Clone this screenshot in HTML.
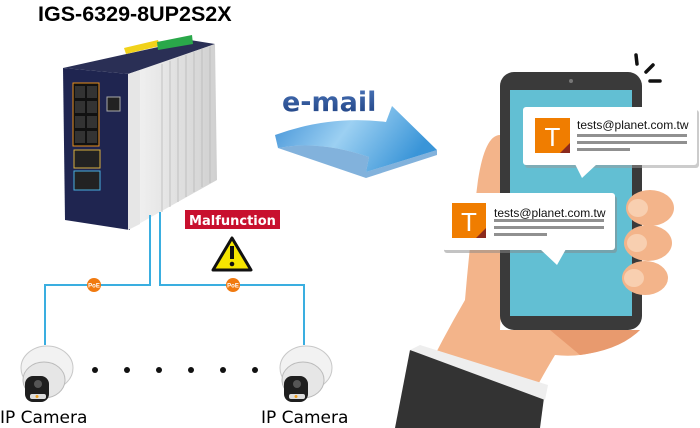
<!DOCTYPE html>
<html><head><meta charset="utf-8"><style>
html,body{margin:0;padding:0;background:#fff;}
svg{display:block;}
.ls{font-family:"Liberation Sans",sans-serif;}
.dv{font-family:"DejaVu Sans",sans-serif;}
</style></head><body>
<svg width="700" height="428" viewBox="0 0 700 428" xmlns="http://www.w3.org/2000/svg">
<defs>
<linearGradient id="arr" x1="0" y1="0" x2="1" y2="0.3"><stop offset="0" stop-color="#3d8fd6"/><stop offset="0.5" stop-color="#9cd0f2"/><stop offset="1" stop-color="#3a95d8"/></linearGradient>
<linearGradient id="alu" x1="0" y1="0" x2="1" y2="0"><stop offset="0" stop-color="#f4f4f4"/><stop offset="1" stop-color="#d0d0d0"/></linearGradient>
<linearGradient id="em" x1="0" y1="0" x2="0" y2="1"><stop offset="0" stop-color="#4a74b8"/><stop offset="1" stop-color="#1d3f80"/></linearGradient>
</defs>
<text class="ls" x="38" y="21" font-size="21.5" font-weight="bold" fill="#000">IGS-6329-8UP2S2X</text>
<!-- switch -->
<polygon points="63,68 190,40 215,44 130,74" fill="#2a2f55"/>
<polygon points="124,48 158,40 160,46 126,54" fill="#f1d21a"/>
<polygon points="157,42 192,35 193,44 158,50" fill="#2aa84a"/>
<polygon points="63,68 130,74 130,230 65,220" fill="#1f2550"/>
<polygon points="128,74 215,44 217,180 160,212 128,230" fill="url(#alu)"/>
<polygon points="128,74 140,70 140,224 128,230" fill="#e6e6e6"/>
<g stroke="#b8b8b8" stroke-width="0.8">
<line x1="162" y1="64" x2="162" y2="212"/><line x1="170" y1="61" x2="170" y2="207"/><line x1="178" y1="58" x2="178" y2="202"/><line x1="186" y1="55" x2="186" y2="197"/><line x1="194" y1="52" x2="194" y2="192"/><line x1="202" y1="49" x2="202" y2="187"/><line x1="210" y1="47" x2="210" y2="183"/></g>
<rect x="73" y="83" width="26" height="63" fill="#111" stroke="#e8901c" stroke-width="1"/>
<g fill="#333"><rect x="75" y="86" width="10" height="12"/><rect x="87" y="86" width="10" height="12"/><rect x="75" y="101" width="10" height="12"/><rect x="87" y="101" width="10" height="12"/><rect x="75" y="116" width="10" height="12"/><rect x="87" y="116" width="10" height="12"/><rect x="75" y="131" width="10" height="12"/><rect x="87" y="131" width="10" height="12"/></g>
<rect x="107" y="97" width="13" height="14" fill="#222" stroke="#aaa"/>
<rect x="74" y="150" width="26" height="18" fill="#222" stroke="#d8b040"/>
<rect x="74" y="171" width="26" height="19" fill="#222" stroke="#4ab0e0"/>
<!-- cables -->
<polyline points="150,215 150,285 45,285 45,345" fill="none" stroke="#3aaee0" stroke-width="2"/>
<polyline points="160,212 160,285 304,285 304,345" fill="none" stroke="#3aaee0" stroke-width="2"/>
<circle cx="94" cy="285" r="7" fill="#f07a10"/><text class="ls" x="94" y="287.5" font-size="6" font-weight="bold" fill="#fff" text-anchor="middle">PoE</text>
<circle cx="233" cy="285" r="7" fill="#f07a10"/><text class="ls" x="233" y="287.5" font-size="6" font-weight="bold" fill="#fff" text-anchor="middle">PoE</text>
<rect x="185" y="210" width="95" height="19" fill="#c8102e"/>
<text class="dv" x="232.5" y="225" font-size="13" font-weight="bold" fill="#fff" text-anchor="middle">Malfunction</text>
<polygon points="232,238 251,270 213,270" fill="#f6e500" stroke="#111" stroke-width="3" stroke-linejoin="round"/>
<rect x="230" y="246" width="4" height="13" fill="#111"/><circle cx="232" cy="264" r="2.3" fill="#111"/>
<!-- cameras -->
<g id="cam">
<ellipse cx="47" cy="368" rx="26" ry="22" fill="#f2f2f2" stroke="#c8c8c8"/>
<ellipse cx="44" cy="380" rx="21" ry="18" fill="#e6e6e6" stroke="#bbb"/>
<rect x="25" y="376" width="24" height="26" rx="8" fill="#1e1e1e"/>
<circle cx="38" cy="384" r="4" fill="#555"/>
<rect x="30" y="394" width="16" height="5" rx="2" fill="#ddd"/>
<circle cx="37" cy="396.5" r="1.5" fill="#f0a020"/>
</g>
<use href="#cam" x="259"/>
<g fill="#111"><circle cx="95" cy="370" r="3"/><circle cx="127" cy="370" r="3"/><circle cx="159" cy="370" r="3"/><circle cx="191" cy="370" r="3"/><circle cx="223" cy="370" r="3"/><circle cx="255" cy="370" r="3"/></g>
<text class="dv" x="0" y="423" font-size="17" fill="#000">IP Camera</text>
<text class="dv" x="261" y="423" font-size="17" fill="#000">IP Camera</text>
<!-- email arrow -->
<text class="dv" x="282" y="111" font-size="27" font-weight="bold" fill="url(#em)">e-mail</text>
<path d="M275,135 Q330,115 386,122 L392,106 L437,150 L366,172 L369,157 Q320,140 278,148 Z" fill="url(#arr)"/>
<path d="M278,148 Q320,140 369,157 L366,172 L437,150 L437,155 L366,178 Z" fill="#2f7fc4" opacity="0.6"/>
<!-- hand & phone -->
<path d="M465,300 Q470,240 478,180 Q485,135 500,135 Q515,140 505,200 L500,330 L640,330 Q600,360 555,355 Q540,380 530,400 L440,428 L400,428 Q430,360 465,300 Z" fill="#f3b48a"/>
<rect x="500" y="72" width="142" height="258" rx="14" fill="#3a3a3a"/>
<rect x="510" y="90" width="122" height="226" fill="#62bfd3"/>
<circle cx="571" cy="81" r="2" fill="#777"/>
<g fill="#f3b48a"><ellipse cx="650" cy="208" rx="24" ry="18"/><ellipse cx="648" cy="243" rx="24" ry="18"/><ellipse cx="645" cy="278" rx="23" ry="17"/></g>
<g fill="#f8cfb0"><ellipse cx="638" cy="208" rx="10" ry="9"/><ellipse cx="637" cy="243" rx="10" ry="9"/><ellipse cx="634" cy="278" rx="10" ry="9"/></g>
<path d="M550,330 L640,330 Q620,350 580,355 Z" fill="#e89a6e"/>
<path d="M395,428 L410,350 L545,390 L540,428 Z" fill="#333"/>
<path d="M410,350 L420,345 L548,385 L545,400 Z" fill="#eee"/>
<g stroke="#111" stroke-width="3.5" stroke-linecap="round"><line x1="636" y1="55" x2="637" y2="64"/><line x1="646" y1="72" x2="653" y2="65"/><line x1="650" y1="81" x2="660" y2="81"/></g>
<!-- notifications -->
<g>
<rect x="525" y="110" width="174" height="58" rx="3" fill="#999" opacity="0.5"/>
<rect x="523" y="107" width="174" height="58" rx="3" fill="#fff"/>
<polygon points="575,164 597,164 582,178" fill="#fff"/>
<rect x="535" y="118" width="35" height="35" fill="#f07d00"/><polygon points="570,143 570,153 560,153" fill="#8b2a1e"/>
<text class="ls" x="552.5" y="146" font-size="26" fill="#fff" text-anchor="middle">T</text>
<text class="ls" x="577" y="129" font-size="12" fill="#111">tests@planet.com.tw</text>
<rect x="577" y="134" width="110" height="3" fill="#909090"/><rect x="577" y="141" width="110" height="3" fill="#909090"/><rect x="577" y="148" width="53" height="3" fill="#909090"/>
</g>
<g>
<rect x="444" y="196" width="173" height="57" rx="3" fill="#888" opacity="0.5"/>
<rect x="442" y="193" width="173" height="57" rx="3" fill="#fff"/>
<polygon points="540,249 566,249 557,265" fill="#fff"/>
<rect x="452" y="203" width="34" height="35" fill="#f07d00"/><polygon points="486,228 486,238 476,238" fill="#8b2a1e"/>
<text class="ls" x="469" y="231" font-size="26" fill="#fff" text-anchor="middle">T</text>
<text class="ls" x="494" y="217" font-size="12" fill="#111">tests@planet.com.tw</text>
<rect x="494" y="219" width="110" height="3" fill="#909090"/><rect x="494" y="226" width="110" height="3" fill="#909090"/><rect x="494" y="233" width="53" height="3" fill="#909090"/>
</g>
</svg>
</body></html>
